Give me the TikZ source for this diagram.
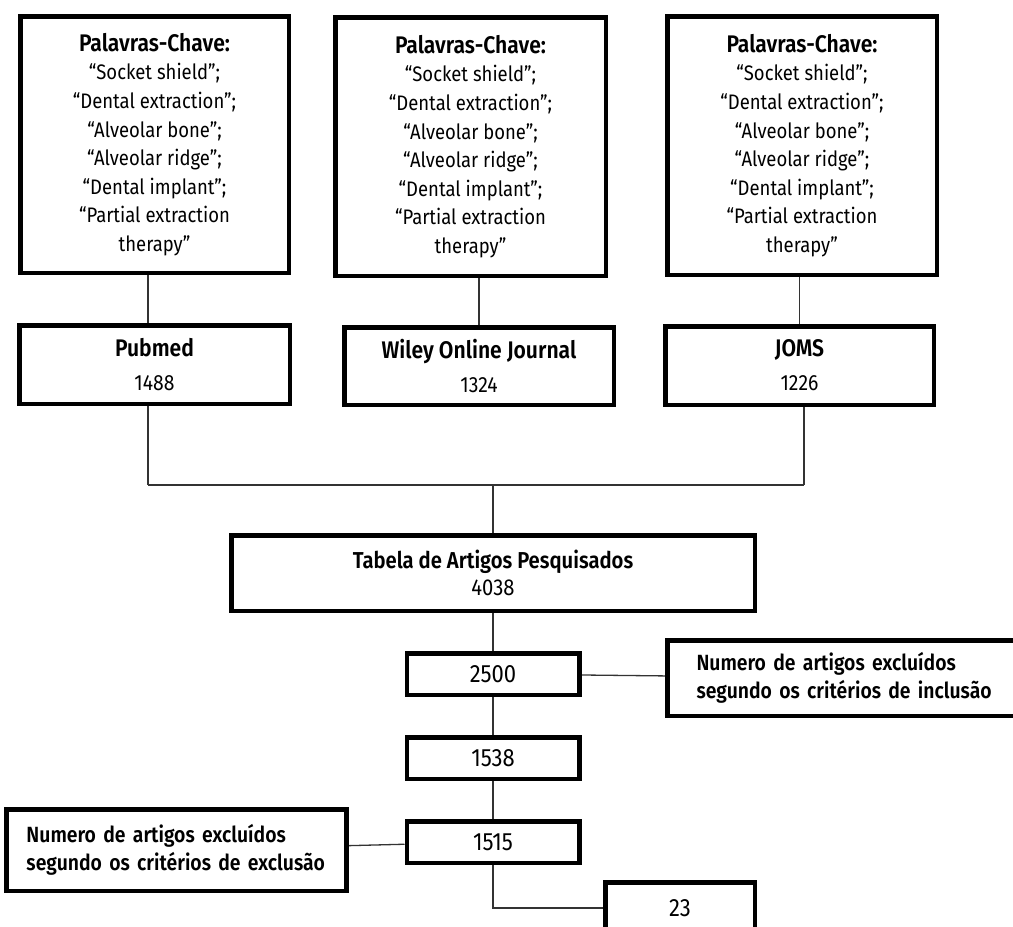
\documentclass[tikz,border=0pt]{standalone}
\usepackage{fontspec}
\setmainfont{Fira Sans}[BoldFont={Fira Sans SemiBold}, FakeStretch=0.88]
\usepackage{tikz}
\usetikzlibrary{positioning}
\usetikzlibrary{calc}
\pgfdeclarelayer{nodelayer}
\pgfdeclarelayer{edgelayer}
\pgfsetlayers{edgelayer,nodelayer,main}
\tikzstyle{none}=[inner sep=-1pt]
\tikzstyle{kbox}=[draw=black, line width=4.5pt, fill=white, align=center, inner sep=0pt, font=\fontsize{21}{28.6}\selectfont]
\tikzstyle{sbox}=[draw=black, line width=4.5pt, fill=white, align=center, inner sep=0pt, font=\fontsize{22}{34}\selectfont]
\tikzstyle{nbox}=[draw=black, line width=4.5pt, fill=white, align=center, inner sep=0pt, font=\fontsize{25}{27}\selectfont]
\tikzstyle{xbox}=[draw=black, line width=4.5pt, fill=white, align=left, inner xsep=20pt, inner ysep=0pt, font=\bfseries\fontsize{22}{28}\selectfont]
\tikzset{link/.style={draw=black!80, line width=1.3pt}}
\newcommand{\kw}{{\bfseries\fontsize{24}{28.6}\selectfont Palavras-Chave:}\\“Socket shield”;\\“Dental extraction”;\\“Alveolar bone”;\\“Alveolar ridge”;\\“Dental implant”;\\“Partial extraction\\therapy”}
\newcommand{\db}[1]{{\bfseries\fontsize{24}{34}\selectfont #1}}

\begin{document}
\begin{tikzpicture}[x=10pt, y=10pt]
        \useasboundingbox (0,0) rectangle (101.3,-92.7);
        \begin{pgfonlayer}{nodelayer}
            \node [style=kbox, minimum width=268.5pt, minimum height=256.5pt] (0) at (15.45, -14.45) {\kw};
            \node [style=kbox, minimum width=270.5pt, minimum height=258.5pt] (1) at (47.05, -14.65) {\kw};
            \node [style=kbox, minimum width=269.5pt, minimum height=258.5pt] (2) at (80.2, -14.55) {\kw};
            \node [style=sbox, minimum width=270.5pt, minimum height=78.5pt] (3) at (15.45, -36.45) {\db{Pubmed}\\1488};
            \node [style=sbox, minimum width=269.5pt, minimum height=77.5pt] (4) at (47.9, -36.6) {\db{Wiley Online Journal}\\1324};
            \node [style=sbox, minimum width=268.5pt, minimum height=78.5pt] (5) at (79.95, -36.55) {\db{JOMS}\\1226};
            \node [style=nbox, font=\fontsize{23}{27}\selectfont, minimum width=523.5pt, minimum height=75.5pt] (6) at (49.3, -57.3) {\textbf{Tabela de Artigos Pesquisados}\\4038};
            \node [style=nbox, minimum width=172.5pt, minimum height=41.5pt] (7) at (49.3, -67.4) {2500};
            \node [style=nbox, minimum width=172.5pt, minimum height=41.5pt] (8) at (49.3, -75.8) {1538};
            \node [style=nbox, minimum width=172.5pt, minimum height=41.5pt] (9) at (49.3, -84.2) {1515};
            \node [style=nbox, minimum width=149.5pt, minimum height=51.5pt] (10) at (68.0, -90.8) {23};
            \node [style=xbox, inner xsep=29pt, text width=312pt, minimum height=75.5pt] (11) at (85.25, -67.8) {Numero de artigos excluídos\\segundo os critérios de inclusão};
            \node [style=xbox, text width=300pt, minimum height=81.5pt] (12) at (17.65, -85.0) {Numero de artigos excluídos\\segundo os critérios de exclusão};
            \node [style=none] (13) at (14.8, -48.5) {};
            \node [style=none] (14) at (80.4, -48.5) {};
            \node [style=none] (15) at (49.3, -48.5) {};
        \end{pgfonlayer}
        \begin{pgfonlayer}{edgelayer}
            \fill [white] (0,0) rectangle (101.3,-92.7);
            \draw [link] (0.south -| 13) to (3.north -| 13);
            \draw [link] (1.south -| 4) to (4.north);
            \draw [link] (2.south -| 5) to (5.north);
            \draw [link] (3.south -| 13) to (13.center);
            \draw [link] (5.south -| 14) to (14.center);
            \draw [link] (13.center) to (14.center);
            \draw [link] (15.center) to (6);
            \draw [link] (6) to (7);
            \draw [link] (7) to (8);
            \draw [link] (8) to (9);
            \draw [link] (7) to (11);
            \draw [link] (12) to (9);
            \draw [link] (9) |- (10);
        \end{pgfonlayer}
    \end{tikzpicture}
\end{document}
